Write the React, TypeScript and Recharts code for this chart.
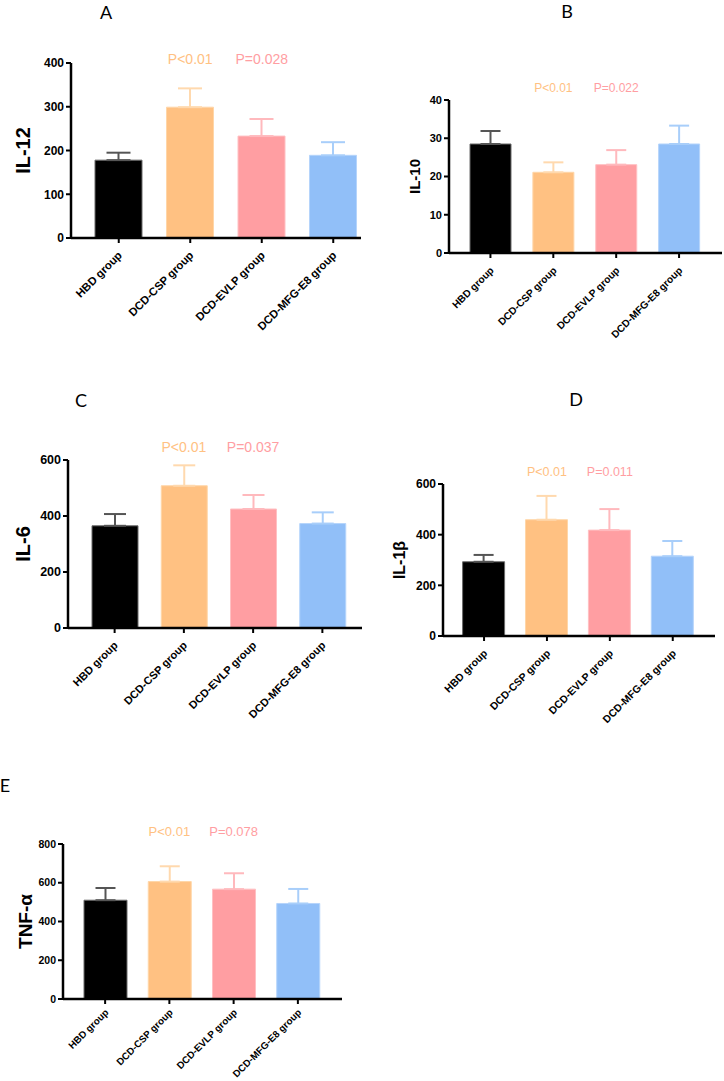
import React from 'react';
import { BarChart, Bar, XAxis, YAxis, ErrorBar } from 'recharts';

// shared categories + colours
const groups = ['HBD group', 'DCD-CSP group', 'DCD-EVLP group', 'DCD-MFG-E8 group'];
const seriesKeys = ['hbd', 'csp', 'evlp', 'mfg'];
const fills = ['#000000', '#FFC182', '#FF9EA2', '#91BFF8'];
const outlines = ['#6b6b6b', '#FFD6A8', '#FFC0C3', '#B5D4FB'];
const errColors = ['#555555', '#FFD9AE', '#FFB9BD', '#A8CEFA'];
const pColors = ['', '#FFC182', '#FF9EA2', ''];

// A: IL-12
const il12Mean = [178, 299, 233, 189];
const il12Sd = [17, 43, 39, 30];
const il12P = ['', 'P<0.01', 'P=0.028', ''];
const il12Ticks = [0, 100, 200, 300, 400];

// B: IL-10
const il10Mean = [28.5, 21.1, 23.1, 28.5];
const il10Sd = [3.4, 2.6, 3.8, 4.8];
const il10P = ['', 'P<0.01', 'P=0.022', ''];
const il10Ticks = [0, 10, 20, 30, 40];

// C: IL-6
const il6Mean = [365, 508, 425, 373];
const il6Sd = [42, 73, 50, 40];
const il6P = ['', 'P<0.01', 'P=0.037', ''];
const il6Ticks = [0, 200, 400, 600];

// D: IL-1β
const il1bMean = [293, 459, 418, 315];
const il1bSd = [27, 94, 83, 60];
const il1bP = ['', 'P<0.01', 'P=0.011', ''];
const il1bTicks = [0, 200, 400, 600];

// E: TNF-α
const tnfMean = [510, 606, 567, 493];
const tnfSd = [63, 79, 82, 75];
const tnfP = ['', 'P<0.01', 'P=0.078', ''];
const tnfTicks = [0, 200, 400, 600, 800];

const FONT = '"Liberation Sans", Arial, sans-serif';

// one row per group, value only under that group's own series key
const buildRows = (mean: number[], sd: number[], pText: string[]) =>
  groups.map((g, i) => {
    const row: Record<string, any> = { name: g, p: pText[i] };
    row[seriesKeys[i]] = mean[i];
    row[seriesKeys[i] + 'Err'] = [0, sd[i]];
    return row;
  });

const RotTick = ({ x, y, payload, fontSize, dy }: any) => (
  <text
    x={x + 4}
    y={y + dy}
    transform={`rotate(-45, ${x + 4}, ${y + dy})`}
    textAnchor="end"
    fontSize={fontSize}
    fontWeight="bold"
    fontFamily={FONT}
    fill="#000"
  >
    {payload.value}
  </text>
);

// p-value text sitting above the plot, placed by the category scale
const PTick = ({ x, y, payload, index, fontSize, gap }: any) => {
  if (!payload.value) return null;
  return (
    <text
      x={x}
      y={y - gap}
      textAnchor="middle"
      dominantBaseline="central"
      fontSize={fontSize}
      fontFamily={FONT}
      fill={pColors[index]}
    >
      {payload.value}
    </text>
  );
};

interface PanelProps {
  left: number;
  top: number;
  width: number;
  height: number;
  yw: number;
  mt: number;
  mr: number;
  hx: number;
  padL: number;
  padR: number;
  barW: number;
  cap: number;
  mean: number[];
  sd: number[];
  ticks: number[];
  pLabels: string[];
  pSize: number;
  pGap: number;
  yLabel: string;
  yLabelSize: number;
  yLabelX: number;
  tickSize: number;
  xTickSize: number;
  xTickDy?: number;
}

const TOP_AXIS_H = 20;

function Panel(p: PanelProps) {
  const rows = buildRows(p.mean, p.sd, p.pLabels);
  const max = p.ticks[p.ticks.length - 1];

  return (
    <div style={{ position: 'absolute', left: p.left, top: p.top }}>
      <BarChart
        width={p.width}
        height={p.height}
        data={rows}
        margin={{ top: p.mt - TOP_AXIS_H, right: p.mr, bottom: 0, left: 0 }}
      >
        <XAxis
          dataKey="name"
          interval={0}
          height={p.hx}
          padding={{ left: p.padL, right: p.padR }}
          axisLine={{ stroke: '#000', strokeWidth: 2.5 }}
          tickLine={{ stroke: '#000', strokeWidth: 2 }}
          tickSize={5}
          tickMargin={2}
          tick={<RotTick fontSize={p.xTickSize} dy={p.xTickDy ?? 11} />}
        />
        <XAxis
          xAxisId="pvals"
          orientation="top"
          dataKey="p"
          interval={0}
          height={TOP_AXIS_H}
          padding={{ left: p.padL, right: p.padR }}
          axisLine={false}
          tickLine={false}
          tickSize={0}
          tickMargin={0}
          allowDuplicatedCategory
          tick={<PTick fontSize={p.pSize} gap={p.pGap} />}
        />
        <YAxis
          width={p.yw}
          domain={[0, max]}
          ticks={p.ticks}
          interval={0}
          allowDataOverflow
          axisLine={{ stroke: '#000', strokeWidth: 2.5 }}
          tickLine={{ stroke: '#000', strokeWidth: 2 }}
          tickSize={5}
          tickMargin={2}
          tick={{ fill: '#000', fontSize: p.tickSize, fontWeight: 'bold', fontFamily: FONT }}
          label={{
            content: ({ viewBox }: any) => {
              const cy = viewBox.y + viewBox.height / 2;
              return (
                <text
                  x={p.yLabelX}
                  y={cy}
                  transform={`rotate(-90, ${p.yLabelX}, ${cy})`}
                  textAnchor="middle"
                  dominantBaseline="central"
                  fontSize={p.yLabelSize}
                  fontWeight="bold"
                  fontFamily={FONT}
                  fill="#000"
                >
                  {p.yLabel}
                </text>
              );
            },
          }}
        />
        {seriesKeys.map((k, i) => (
          <Bar
            key={k}
            dataKey={k}
            stackId="s"
            barSize={p.barW}
            fill={fills[i]}
            stroke={outlines[i]}
            strokeWidth={1}
            isAnimationActive={false}
          >
            <ErrorBar
              dataKey={k + 'Err'}
              direction="y"
              width={p.cap}
              stroke={errColors[i]}
              strokeWidth={2}
              isAnimationActive={false}
            />
          </Bar>
        ))}
      </BarChart>
    </div>
  );
}

const titles = [
  { t: 'A', x: 106, y: 12 },
  { t: 'B', x: 567, y: 11 },
  { t: 'C', x: 81, y: 400 },
  { t: 'D', x: 576, y: 399 },
  { t: 'E', x: 5, y: 785 },
];

export default function App() {
  return (
    <div
      style={{
        position: 'absolute',
        left: 0,
        top: 0,
        width: 724,
        height: 1081,
        background: '#fff',
        fontFamily: FONT,
      }}
    >
      <Panel
        left={0} top={0} width={362} height={358} yw={71} mt={63} mr={1} hx={120}
        padL={12} padR={-8} barW={47} cap={12}
        mean={il12Mean} sd={il12Sd} ticks={il12Ticks} pLabels={il12P} pSize={14} pGap={4}
        yLabel="IL-12" yLabelSize={20} yLabelX={23} tickSize={12} xTickSize={11.3}
      />
      <Panel
        left={362} top={0} width={362} height={358} yw={87} mt={100} mr={2} hx={105}
        padL={10} padR={11.5} barW={41} cap={10}
        mean={il10Mean} sd={il10Sd} ticks={il10Ticks} pLabels={il10P} pSize={12} pGap={12}
        yLabel="IL-10" yLabelSize={15} yLabelX={52} tickSize={11} xTickSize={10.2}
      />
      <Panel
        left={0} top={330} width={362} height={400} yw={68} mt={130} mr={0} hx={102}
        padL={12} padR={5} barW={46} cap={11}
        mean={il6Mean} sd={il6Sd} ticks={il6Ticks} pLabels={il6P} pSize={14} pGap={13}
        yLabel="IL-6" yLabelSize={20} yLabelX={23} tickSize={12.5} xTickSize={11}
      />
      <Panel
        left={362} top={330} width={362} height={400} yw={81} mt={154} mr={9} hx={94}
        padL={9.6} padR={10.8} barW={42} cap={10}
        mean={il1bMean} sd={il1bSd} ticks={il1bTicks} pLabels={il1bP} pSize={12.5} pGap={12}
        yLabel="IL-1β" yLabelSize={16} yLabelX={37} tickSize={12} xTickSize={10.5}
      />
      <Panel
        left={0} top={730} width={362} height={351} yw={63} mt={114} mr={20} hx={82}
        padL={10} padR={12} barW={43} cap={10}
        mean={tnfMean} sd={tnfSd} ticks={tnfTicks} pLabels={tnfP} pSize={13} pGap={13}
        yLabel="TNF-α" yLabelSize={19} yLabelX={25} tickSize={10.5} xTickSize={9.8} xTickDy={7}
      />
      <svg
        width={724}
        height={1081}
        style={{ position: 'absolute', left: 0, top: 0, pointerEvents: 'none' }}
      >
        {titles.map((d) => (
          <text
            key={d.t}
            x={d.x}
            y={d.y}
            textAnchor="middle"
            dominantBaseline="central"
            fontSize={18}
            fontFamily="Lato, 'Open Sans', sans-serif"
            fill="#000"
          >
            {d.t}
          </text>
        ))}
      </svg>
    </div>
  );
}
